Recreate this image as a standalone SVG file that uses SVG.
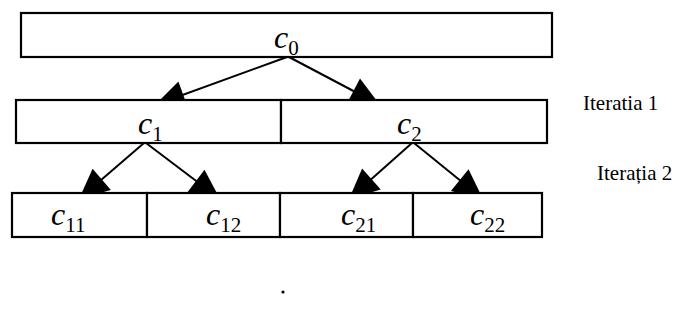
<svg xmlns="http://www.w3.org/2000/svg" width="684" height="321" viewBox="0 0 684 321">
<defs>
<marker id="ah" viewBox="0 0 30 28" refX="30" refY="14" markerWidth="30" markerHeight="28" markerUnits="userSpaceOnUse" orient="auto" overflow="visible">
<path d="M0,0 L30,14 L0,28 z" fill="#000"/>
</marker>
<style>
.box{fill:#fff;stroke:#000;stroke-width:2.2}
.c{font-family:"Liberation Serif",serif;font-style:italic;font-size:32px;fill:#000}
.s{font-family:"Liberation Serif",serif;font-size:21px;font-style:normal}
.lbl{font-family:"Liberation Serif",serif;font-size:21px;fill:#000}
.ar{stroke:#000;stroke-width:2;fill:none;marker-end:url(#ah)}
</style>
</defs>
<g id="connectors">
<line class="ar" x1="287" y1="57" x2="155" y2="105"/>
<line class="ar" x1="289" y1="57" x2="380" y2="105"/>
<line class="ar" x1="144" y1="143" x2="79" y2="199"/>
<line class="ar" x1="146" y1="143" x2="220" y2="199"/>
<line class="ar" x1="412" y1="143" x2="349" y2="199"/>
<line class="ar" x1="414" y1="143" x2="483" y2="199"/>
</g>
<g id="n0">
<rect class="box" x="21" y="13" width="531" height="44"/>
<text class="c" x="274" y="48">c<tspan class="s" dy="7">0</tspan></text>
</g>
<g id="n1">
<rect class="box" x="16" y="100" width="265" height="43"/>
<text class="c" x="138" y="134">c<tspan class="s" dy="7">1</tspan></text>
</g>
<g id="n2">
<rect class="box" x="281" y="100" width="266" height="43"/>
<text class="c" x="397" y="134">c<tspan class="s" dy="7">2</tspan></text>
</g>
<g id="n11">
<rect class="box" x="12" y="193" width="135" height="44"/>
<text class="c" x="51" y="225">c<tspan class="s" dy="7">11</tspan></text>
</g>
<g id="n12">
<rect class="box" x="147" y="193" width="133" height="44"/>
<text class="c" x="206" y="225">c<tspan class="s" dy="7">12</tspan></text>
</g>
<g id="n21">
<rect class="box" x="280" y="193" width="133" height="44"/>
<text class="c" x="341" y="225">c<tspan class="s" dy="7">21</tspan></text>
</g>
<g id="n22">
<rect class="box" x="413" y="193" width="129" height="44"/>
<text class="c" x="470" y="225">c<tspan class="s" dy="7">22</tspan></text>
</g>
<g id="labels">
<text class="lbl" x="583" y="110">Iteratia 1</text>
<text class="lbl" x="597" y="180">Iterația 2</text>
</g>
<circle cx="283" cy="292" r="1.6" fill="#000"/>
</svg>
